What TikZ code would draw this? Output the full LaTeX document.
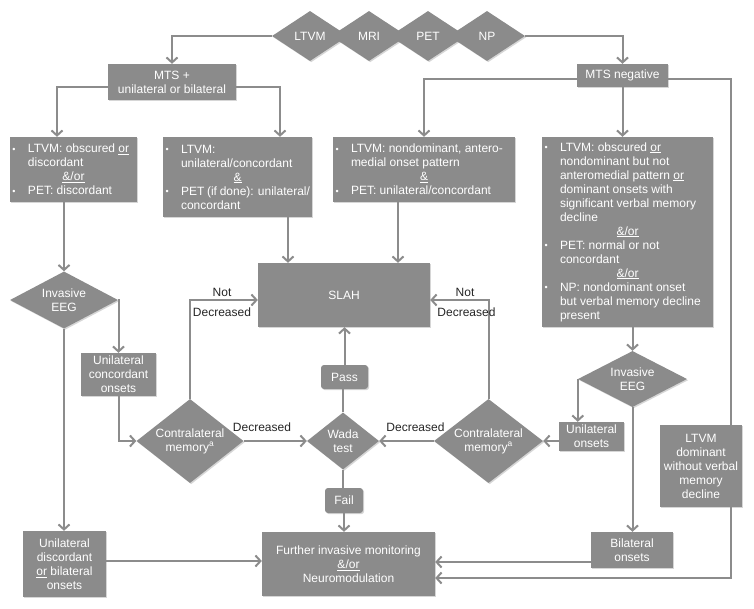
\documentclass[tikz,border=0pt]{standalone}
\usepackage{fontspec}
\setmainfont{Liberation Sans}
\usetikzlibrary{shapes.geometric,arrows.meta,shadows}
\definecolor{boxgray}{RGB}{139,139,139}
\definecolor{linegray}{RGB}{140,140,140}
\newcommand{\fs}{\fontsize{12bp}{14bp}\selectfont}
\newcommand{\tb}[2]{\vbox{\hsize=#1\relax\parindent=0pt #2}}
\newcommand{\bl}[1]{\hbox to\hsize{\hbox to 16bp{\hskip0.5bp\raisebox{0.6bp}{\fontsize{9bp}{9bp}\selectfont\textbullet}\hfil}#1\hfil}}
\newcommand{\cl}[1]{\hbox to\hsize{\hskip16bp #1\hfil}}
\newcommand{\ml}[1]{\hbox to\hsize{\hfil #1\hfil}}
\begin{document}
\begin{tikzpicture}[x=1bp,y=-1bp,
  shp/.style={fill=boxgray, draw=none, inner sep=0pt, text=white, font=\fs,
    drop shadow={shadow xshift=1.2bp,shadow yshift=-1.2bp,fill=black!45,opacity=0.35}},
  box/.style={shp, rectangle, align=center},
  tbox/.style={shp, rectangle},
  dia/.style={shp, diamond},
  dtext/.style={text=white, font=\fs, align=center, inner sep=0pt},
  lab/.style={text=black!85, font=\fs, inner sep=0pt, anchor=base},
  conn/.style={draw=linegray, line width=2bp},
  arr/.style={conn, -{Straight Barb[length=5bp,width=11bp]}},
]
\useasboundingbox (0,0) rectangle (754,609);
\fill[white] (0,0) rectangle (754,609);

% top diamonds
\node[dia, minimum width=76bp, minimum height=50bp] (ltvm) at (310,36) {};
\node[dtext] (ltvmt) at (ltvm) {LTVM};
\node[dia, minimum width=76bp, minimum height=50bp] (mri) at (369,36) {};
\node[dtext] (mrit) at (mri) {MRI};
\node[dia, minimum width=76bp, minimum height=50bp] (pet) at (428,36) {};
\node[dtext] (pett) at (pet) {PET};
\node[dia, minimum width=76bp, minimum height=50bp] (np) at (487,36) {};
\node[dtext] (npt) at (np) {NP};

% second row
\node[box, minimum width=128bp, minimum height=36bp] (mtsp) at (172,82) {MTS +\\unilateral or bilateral};
\node[box, minimum width=91bp, minimum height=23bp] (mtsn) at (622.5,75.5) {MTS negative};

% criteria boxes
\node[tbox, minimum width=127bp, minimum height=65bp] (b1) at (73.5,169.5)
  {\tb{123bp}{\bl{LTVM: obscured \underline{or}}\cl{discordant}\ml{\underline{\&/or}}\bl{PET: discordant}}};
\node[tbox, minimum width=149bp, minimum height=80bp] (b2) at (237.5,177)
  {\tb{145bp}{\bl{LTVM:}\cl{unilateral/concordant}\ml{\underline{\&}}\bl{PET (if done): unilateral/}\cl{concordant}}};
\node[tbox, minimum width=182bp, minimum height=65bp] (b3) at (424,169.5)
  {\tb{178bp}{\bl{LTVM: nondominant, antero-}\cl{medial onset pattern}\ml{\underline{\&}}\bl{PET: unilateral/concordant}}};
\node[tbox, minimum width=171bp, minimum height=190bp] (b4) at (627.5,232)
  {\tb{167bp}{\bl{LTVM: obscured \underline{or}}\cl{nondominant but not}\cl{anteromedial pattern \underline{or}}\cl{dominant onsets with}\cl{significant verbal memory}\cl{decline}\ml{\underline{\&/or}}\bl{PET: normal or not}\cl{concordant}\ml{\underline{\&/or}}\bl{NP: nondominant onset}\cl{but verbal memory decline}\cl{present}}};

% SLAH
\node[box, minimum width=172bp, minimum height=64bp] (slah) at (344,295) {SLAH};

% left branch
\node[dia, minimum width=108bp, minimum height=57bp] (eegL) at (64,300) {};
\node[dtext] (eegLt) at (eegL) {Invasive\\EEG};
\node[box, minimum width=75bp, minimum height=43bp] (uco) at (118.5,374.5) {Unilateral\\concordant\\onsets};
\node[dia, minimum width=107bp, minimum height=84bp] (cmL) at (190,441) {};
\node[dtext] (cmLt) at (cmL) {Contralateral\\memory\textsuperscript{a}};
\node[box, minimum width=83bp, minimum height=66bp] (udb) at (64.5,564) {Unilateral\\discordant\\\underline{or} bilateral\\onsets};

% centre
\node[dia, minimum width=72bp, minimum height=57bp] (wada) at (343,441) {};
\node[dtext] (wadat) at (wada) {Wada\\test};
\node[box, rounded corners=3bp, minimum width=47bp, minimum height=24bp] (pass) at (344.5,377) {Pass};
\node[box, rounded corners=3bp, minimum width=38bp, minimum height=25bp] (fail) at (344,500.5) {Fail};
\node[box, minimum width=173bp, minimum height=64bp] (further) at (348.5,564) {Further invasive monitoring\\\underline{\&/or}\\Neuromodulation};

% right branch
\node[dia, minimum width=109bp, minimum height=84bp] (cmR) at (488.5,441) {};
\node[dtext] (cmRt) at (cmR) {Contralateral\\memory\textsuperscript{a}};
\node[dia, minimum width=109bp, minimum height=56bp] (eegR) at (632.5,379) {};
\node[dtext] (eegRt) at (eegR) {Invasive\\EEG};
\node[box, minimum width=65bp, minimum height=29bp] (uo) at (591.5,436.5) {Unilateral\\onsets};
\node[box, minimum width=82bp, minimum height=36bp] (bilat) at (632,550) {Bilateral\\onsets};
\node[box, minimum width=82bp, minimum height=82bp] (ltvmd) at (701,466) {LTVM\\dominant\\without verbal\\memory\\decline};

% connectors
\draw[arr] (ltvm.west) -| (mtsp.north);
\draw[arr] (np.east) -| (mtsn.north);
\draw[arr] ([yshift=-5bp]mtsp.west) -| ([xshift=-16.5bp]b1.north);
\draw[arr] ([yshift=-5bp]mtsp.east) -| ([xshift=42.5bp]b2.north);
\draw[arr] ([yshift=-3.5bp]mtsn.west) -| (b3.north);
\draw[arr] (mtsn.south) -- (mtsn.south |- b4.north);
\draw[conn] ([yshift=-3.5bp]mtsn.east) -| ([xshift=30bp]ltvmd.north);
\draw[arr] ([xshift=30bp]ltvmd.south) |- ([yshift=-14bp]further.east);
\draw[arr] (b1.south -| eegL.north) -- (eegL.north);
\draw[arr] ([xshift=50.5bp]b2.south) -- ([xshift=50.5bp]b2.south |- slah.north);
\draw[arr] ([xshift=-26bp]b3.south) -- ([xshift=-26bp]b3.south |- slah.north);
\draw[arr] (eegL.east) -| (uco.north);
\draw[arr] (eegL.south) -- (eegL.south |- udb.north);
\draw[arr] (uco.south) |- (cmL.west);
\draw[arr] (cmL.north) |- ([yshift=-5bp]slah.west);
\draw[arr] (cmL.east) -- (wada.west);
\draw[conn] (wada.north) -- (wada.north |- pass.south);
\draw[arr] (pass.north) -- (pass.north |- slah.south);
\draw[conn] (wada.south) -- (wada.south |- fail.north);
\draw[arr] (fail.south) -- (fail.south |- further.north);
\draw[arr] ([yshift=3bp]udb.east) -- ([yshift=3bp]udb.east -| further.west);
\draw[arr] (eegR.north |- b4.south) -- (eegR.north);
\draw[arr] (eegR.west) -- (eegR.west |- uo.north);
\draw[arr] (uo.west |- cmR.east) -- (cmR.east);
\draw[arr] (cmR.west) -- (wada.east);
\draw[arr] (cmR.north) |- ([yshift=-5bp]slah.east);
\draw[arr] (eegR.south) -- (eegR.south |- bilat.north);
\draw[arr] ([yshift=-12bp]bilat.west) -- ([yshift=-12bp]bilat.west -| further.east);

% labels
\node[lab] (nl1) at (222,296) {Not};
\node[lab] (dl1) at (222,316) {Decreased};
\node[lab] (nl2) at (465,296) {Not};
\node[lab] (dl2) at (466.5,316) {Decreased};
\node[lab] (dl3) at (262,431) {Decreased};
\node[lab] (dl4) at (415.5,431) {Decreased};
\end{tikzpicture}
\end{document}
